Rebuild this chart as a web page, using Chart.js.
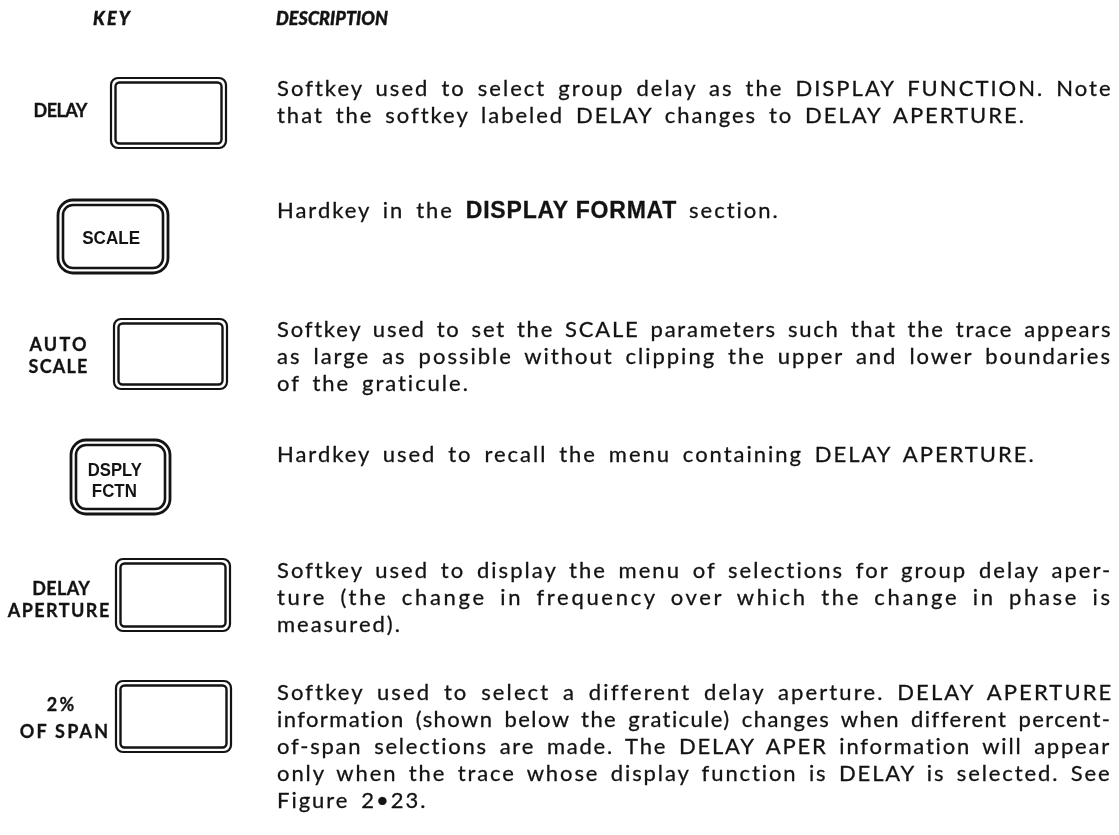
<!DOCTYPE html>
<html><head><meta charset="utf-8">
<script src="https://cdn.jsdelivr.net/npm/chart.js@4.4.1/dist/chart.umd.min.js"></script>
<style>
html,body{margin:0;padding:0;background:#fff;}
#page{position:relative;width:1119px;height:835px;overflow:hidden;font-family:Lato,"Open Sans",sans-serif;color:#131313;}
#c{position:absolute;left:0;top:0;}
.t{position:absolute;white-space:nowrap;}
.hdr{font-weight:900;font-style:italic;font-size:18px;line-height:18px;-webkit-text-stroke:0.4px #131313;}
.side{font-weight:700;font-size:18px;line-height:18px;-webkit-text-stroke:0.3px #131313;}
.cap{font-family:"Liberation Sans",Arial,sans-serif;font-weight:700;font-size:19px;line-height:19px;transform-origin:center top;}
.dl{font-size:22px;line-height:27px;height:27px;-webkit-text-stroke:0.3px #131313;}
.hb{font-family:"Liberation Sans",Arial,sans-serif;font-weight:700;font-size:23px;letter-spacing:0.8px;word-spacing:0;-webkit-text-stroke:0.3px #131313;}
</style></head>
<body><div id="page"><canvas id="c" width="1119" height="835"></canvas></div>
<script>
// ---- content (text) ----
const headers = ['KEY', 'DESCRIPTION'];
const keyNames = ['DELAY', 'SCALE', 'AUTO SCALE', 'DSPLY FCTN', 'DELAY APERTURE', '2% OF SPAN'];
const keyKinds = ['soft', 'hard', 'soft', 'hard', 'soft', 'soft'];
const sideLabels = [['DELAY'], [], ['AUTO', 'SCALE'], [], ['DELAY', 'APERTURE'], ['2%', 'OF SPAN']];
const capLabels = [[], ['SCALE'], [], ['DSPLY', 'FCTN'], [], []];
const descLines = [
  ['Softkey used to select group delay as the DISPLAY FUNCTION. Note',
   'that the softkey labeled DELAY changes to DELAY APERTURE.'],
  ['Hardkey in the **DISPLAY FORMAT** section.'],
  ['Softkey used to set the SCALE parameters such that the trace appears',
   'as large as possible without clipping the upper and lower boundaries',
   'of the graticule.'],
  ['Hardkey used to recall the menu containing DELAY APERTURE.'],
  ['Softkey used to display the menu of selections for group delay aper-',
   'ture (the change in frequency over which the change in phase is',
   'measured).'],
  ['Softkey used to select a different delay aperture. DELAY APERTURE',
   'information (shown below the graticule) changes when different percent-',
   'of-span selections are made. The DELAY APER information will appear',
   'only when the trace whose display function is DELAY is selected. See',
   'Figure 2\u202223.']
];
const justified = [[true, false], [false], [true, true, false], [false], [true, true, false], [true, true, true, true, false]];

// ---- layout (pixels) ----
const boxes = [ // x1,y1,x2,y2
  [110, 77, 227, 149], [57, 199, 169, 274], [113, 318, 228, 390],
  [70, 439, 171, 515], [115, 558, 231, 632], [115, 680, 232, 753]
];
const sidePos = [ // per label line: [x1,x2,capTop]
  [[37, 84, 104]], [], [[28, 88, 338], [28, 88, 360]], [],
  [[32, 90, 582], [7, 110, 604]], [[43, 78, 698], [18, 110, 725]]
];
const capPos = [[], [[82, 140, 230]], [], [[88, 142, 462], [92, 137, 483]], [], []];
const descTop = [81, 203, 322, 447, 563, 685];
const descLeft = 277, descRight = 1110;
const hdrPos = [[92, 131, 12], [276, 388, 12]];

const page = document.getElementById('page');
function fitSpan(cls, html, x1, x2, capTop, capRatio) {
  const s = document.createElement('div');
  s.className = 't ' + cls; s.innerHTML = html; page.appendChild(s);
  const fs = parseFloat(getComputedStyle(s).fontSize);
  const n = s.textContent.length;
  const w0 = s.getBoundingClientRect().width;
  let ls = ((x2 - x1) - w0) / n;
  ls = Math.max(-0.6, Math.min(ls, 2.2));
  s.style.letterSpacing = ls + 'px';
  const w1 = s.getBoundingClientRect().width - ls;
  s.style.left = (x1 + ((x2 - x1) - w1) / 2) + 'px';
  s.style.top = (capTop - capRatio * fs) + 'px';
  return s;
}
headers.forEach((h, i) => fitSpan('hdr', h, hdrPos[i][0], hdrPos[i][1], hdrPos[i][2], 0.17));
sideLabels.forEach((arr, i) => arr.forEach((t, j) => {
  const p = sidePos[i][j]; fitSpan('side', t, p[0], p[1], p[2], 0.17);
}));
capLabels.forEach((arr, i) => arr.forEach((t, j) => {
  const p = capPos[i][j];
  const s = document.createElement('div'); s.className = 't cap'; s.textContent = t; page.appendChild(s);
  const w = s.getBoundingClientRect().width;
  const k = (p[1] - p[0]) / w;
  s.style.left = ((p[0] + p[1]) / 2 - w / 2) + 'px';
  s.style.transform = 'scaleX(' + k + ')';
  s.style.top = (p[2] - 0.13 * 19) + 'px';
}));
// description lines: justified lines share extra width between letters and word gaps
const lineEls = [];
const lsList = [], wsList = [];
descLines.forEach((arr, i) => arr.forEach((t, j) => {
  const d = document.createElement('div');
  d.className = 't dl';
  d.innerHTML = t.replace(/\*\*(.+?)\*\*/g, '<span class="hb">$1</span>');
  d.style.left = descLeft + 'px';
  d.style.top = (descTop[i] + j * 27 - 0.31 * 22 + 0.3) + 'px';
  page.appendChild(d);
  const w0 = d.getBoundingClientRect().width;
  const txt = d.textContent;
  const n = txt.length;
  const spaces = (txt.match(/ /g) || []).length;
  if (justified[i][j]) {
    const extra = (descRight - descLeft) - w0;
    const ls = 0.75 * extra / (n - 1);
    const ws = 0.25 * extra / Math.max(spaces, 1);
    d.style.letterSpacing = ls + 'px';
    d.style.wordSpacing = ws + 'px';
    lsList.push(ls); wsList.push(ws);
  }
  lineEls.push([d, justified[i][j]]);
}));
lsList.sort((a, b) => a - b); wsList.sort((a, b) => a - b);
const medLs = lsList[Math.floor(lsList.length / 2)];
const medWs = wsList[Math.floor(wsList.length / 2)];
lineEls.forEach(([d, j]) => { if (!j) { d.style.letterSpacing = medLs + 'px'; d.style.wordSpacing = medWs + 'px'; } });

// ---- key outlines drawn by Chart.js through its scales ----
const keyPlugin = {
  id: 'keys',
  afterDraw(chart) {
    const ctx = chart.ctx, xs = chart.scales.x, ys = chart.scales.y;
    ctx.save();
    ctx.strokeStyle = '#131313';
    boxes.forEach((b, i) => {
      const x1 = xs.getPixelForValue(b[0]), x2 = xs.getPixelForValue(b[2]);
      const y1 = ys.getPixelForValue(b[1]), y2 = ys.getPixelForValue(b[3]);
      const hard = keyKinds[i] === 'hard';
      const r = hard ? 15 : 7, gap = hard ? 5 : 4.5;
      ctx.lineWidth = hard ? 2.8 : 2.2;
      ctx.beginPath(); ctx.roundRect(x1 + 1, y1 + 1, x2 - x1 - 2, y2 - y1 - 2, r); ctx.stroke();
      ctx.lineWidth = hard ? 2.6 : 2.4;
      ctx.beginPath(); ctx.roundRect(x1 + 1 + gap, y1 + 1 + gap, x2 - x1 - 2 - 2 * gap, y2 - y1 - 2 - 2 * gap, Math.max(r - gap, 4)); ctx.stroke();
    });
    ctx.restore();
  }
};
new Chart(document.getElementById('c'), {
  type: 'scatter',
  data: { datasets: [{ label: 'keys', data: [] }] },
  options: {
    responsive: false, animation: false,
    layout: { padding: 0 },
    plugins: { legend: { display: false }, tooltip: { enabled: false } },
    scales: {
      x: { type: 'linear', min: 0, max: 1119, display: false },
      y: { type: 'linear', min: 0, max: 835, reverse: true, display: false }
    }
  },
  plugins: [keyPlugin]
});
</script></body></html>
